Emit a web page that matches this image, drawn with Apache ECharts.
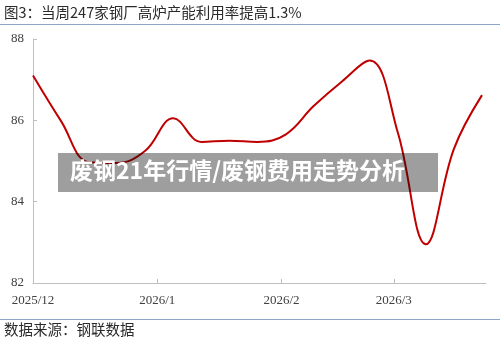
<!DOCTYPE html>
<html>
<head>
<meta charset="utf-8">
<script src="https://cdn.jsdelivr.net/npm/echarts@6/dist/echarts.min.js"></script>
<style>html,body{margin:0;padding:0;background:#fff;}#c{width:500px;height:346px;}</style>
</head>
<body>
<div id="c"></div>
<script>
const titleText = '图3：当周247家钢厂高炉产能利用率提高1.3%';
const sourceText = '数据来源：钢联数据';
const bannerText = '废钢21年行情/废钢费用走势分析';
const dates = ['2025-12-01','2025-12-08','2025-12-15','2025-12-22','2025-12-29','2026-01-05','2026-01-12','2026-01-19','2026-01-26','2026-02-02','2026-02-09','2026-02-16','2026-02-23','2026-03-02','2026-03-09','2026-03-16','2026-03-23'];
const values = [87.1, 85.98, 84.97, 84.95, 85.25, 86.05, 85.47, 85.5, 85.47, 85.65, 86.35, 86.95, 87.47, 85.7, 82.95, 85.3, 86.62];
const yTicks = [82, 84, 86, 88];

function toTs(s){ const p = s.split('-').map(Number); return new Date(p[0], p[1]-1, p[2]).getTime(); }
const seriesData = dates.map((d,i)=>[toTs(d), values[i]]);

const chart = echarts.init(document.getElementById('c'), null, {renderer:'canvas'});
chart.setOption({
  animation: false,
  backgroundColor: '#fff',
  grid: {left: 33, right: 14, top: 39, bottom: 63, containLabel: false},
  xAxis: {
    type: 'time',
    min: toTs('2025-12-01'),
    max: toTs('2026-03-24'),
    splitNumber: 4,
    axisLine: {show: true, lineStyle: {color: '#bfbfbf', width: 1}},
    axisTick: {show: true, inside: true, length: 4, lineStyle: {color: '#bfbfbf'}},
    splitLine: {show: false},
    axisLabel: {
      color: '#404040', fontFamily: 'Liberation Serif', fontSize: 13, margin: 11,
      showMinLabel: true,
      formatter: function(v){ const d = new Date(v); return d.getFullYear() + '/' + (d.getMonth()+1); }
    }
  },
  yAxis: {
    type: 'value', min: yTicks[0], max: yTicks[yTicks.length-1], interval: 2,
    axisLine: {show: true, lineStyle: {color: '#bfbfbf', width: 1}},
    axisTick: {show: true, inside: true, length: 4, lineStyle: {color: '#bfbfbf'}},
    splitLine: {show: false},
    axisLabel: {color: '#404040', fontFamily: 'Liberation Serif', fontSize: 13, margin: 9}
  },
  series: [{
    type: 'line', data: seriesData, smooth: 0.4, showSymbol: false,
    lineStyle: {color: '#c00000', width: 2}, z: 2
  }],
  graphic: [
    {type: 'line', shape: {x1: 0, y1: 24.5, x2: 500, y2: 24.5}, style: {stroke: '#8ea6c6', lineWidth: 1}},
    {type: 'line', shape: {x1: 0, y1: 319.5, x2: 500, y2: 319.5}, style: {stroke: '#8ea6c6', lineWidth: 1}},
    {type: 'text', left: 4, top: 5, style: {text: titleText, fontSize: 14.5, fontFamily: 'Noto Sans CJK SC', fill: '#2a2a2a'}},
    {type: 'text', left: 4, top: 322, style: {text: sourceText, fontSize: 14.5, fontFamily: 'Noto Sans CJK SC', fill: '#2a2a2a'}},
    {type: 'rect', shape: {x: 58, y: 153, width: 380, height: 39}, style: {fill: 'rgba(0,0,0,0.38)'}, z: 100},
    {type: 'text', left: 70, top: 159, z: 101, style: {text: bannerText, fontSize: 23, fontWeight: 'bold', fontFamily: 'Noto Sans CJK SC', fill: '#fff'}}
  ]
});
</script>
</body>
</html>
